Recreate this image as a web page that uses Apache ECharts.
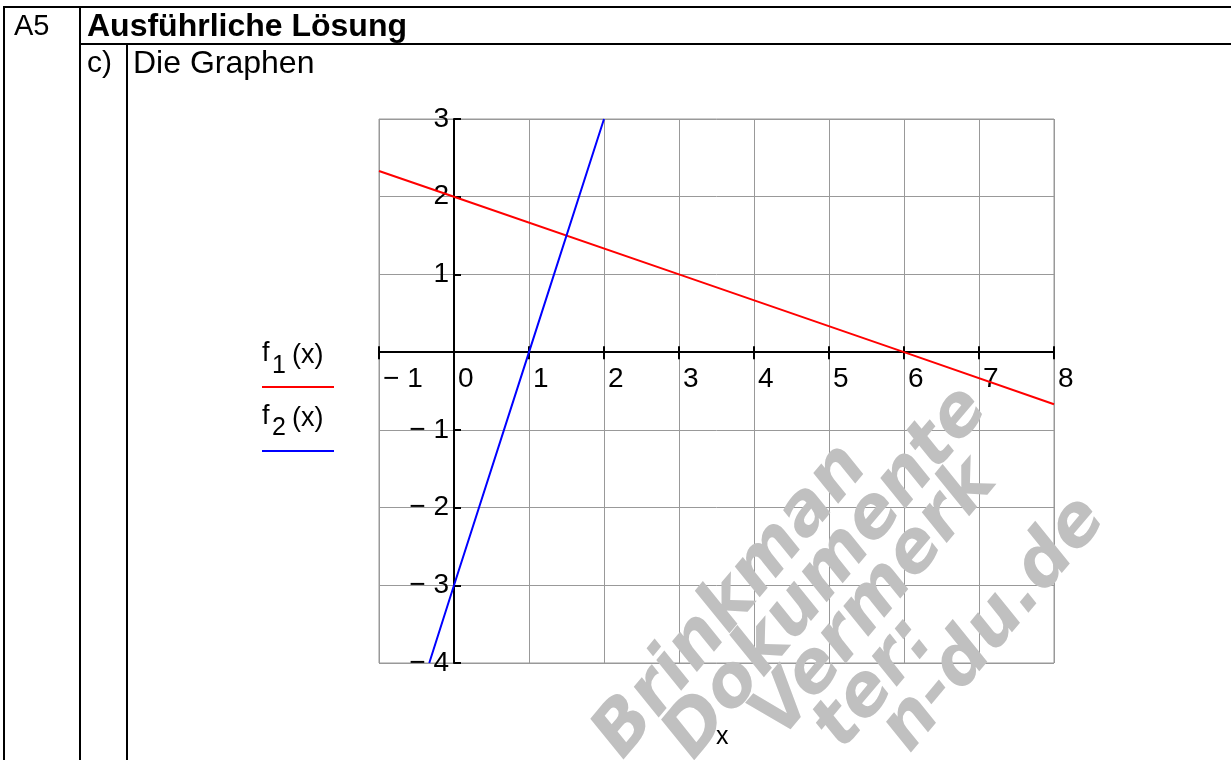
<!DOCTYPE html>
<html>
<head>
<meta charset="utf-8">
<script src="https://cdn.jsdelivr.net/npm/echarts@6/dist/echarts.min.js"></script>
<style>
  html, body { margin: 0; padding: 0; background: #fff; }
  #chart { width: 1231px; height: 760px; }
</style>
</head>
<body>
<div id="chart"></div>
<script>
// values
const xTicks = [-1, 0, 1, 2, 3, 4, 5, 6, 7, 8]
const yTicks = [-4, -3, -2, -1, 0, 1, 2, 3]
const f1Points = [[-1, 2.33], [0, 2], [3, 1], [6, 0], [8, -0.67]]
const f2Points = [[-0.33, -4], [0, -3], [1, 0], [2, 3]]
const watermarkLines = ['Brinkman', 'Dokumente', 'Vermerk', 'ter:', 'n-du.de']

const FONT = 'Liberation Sans, Arial, sans-serif'
const plot = { left: 379, top: 119, width: 675, height: 544 }

const xMin = xTicks[0], xMax = xTicks[xTicks.length - 1]
const yMin = yTicks[0], yMax = yTicks[yTicks.length - 1]
// move the axes (with their labels) from the grid edge onto the zero lines
const xAxisOffset = -(0 - yMin) / (yMax - yMin) * plot.height
const yAxisOffset = -(0 - xMin) / (xMax - xMin) * plot.width

const chart = echarts.init(document.getElementById('chart'))

function fmtNum(v) {
  return v < 0 ? '\u2212 ' + Math.abs(v) : String(v)
}

function line(x1, y1, x2, y2, color) {
  return {
    type: 'line',
    shape: { x1: x1, y1: y1, x2: x2, y2: y2 },
    style: { stroke: color || '#000', lineWidth: 2 },
    z: 10
  }
}

function text(str, x, y, size, opts) {
  opts = opts || {}
  return {
    type: 'text',
    x: x,
    y: y,
    z: opts.z || 10,
    style: {
      text: str,
      fill: opts.fill || '#000',
      fontSize: size,
      fontFamily: opts.family || FONT,
      fontWeight: opts.weight || 'normal',
      fontStyle: opts.style || 'normal',
      align: opts.align || 'left',
      textAlign: opts.align || 'left',
      verticalAlign: 'middle',
      textVerticalAlign: 'middle'
    }
  }
}

// watermark, right end of each line
const wmEnds = [[855, 455], [975, 397], [984, 470], [922, 628], [1093, 507]]
const watermark = watermarkLines.map(function (s, i) {
  const t = text(s, wmEnds[i][0], wmEnds[i][1], 71, {
    fill: '#c0c0c0', family: 'DejaVu Sans', weight: 'bold', style: 'italic', align: 'right', z: 50
  })
  t.rotation = 50 * Math.PI / 180
  return t
})

const graphics = [
  // table frame
  line(3, 7, 1231, 7),
  line(80, 44, 1231, 44),
  line(4, 6, 4, 760),
  line(80, 6, 80, 760),
  line(127, 44, 127, 760),
  text('A5', 14, 27, 29),
  text('Ausführliche Lösung', 87, 27, 32, { weight: 'bold' }),
  text('c)', 87, 64, 30),
  text('Die Graphen', 133, 64, 32),
  // legend
  text('f', 262, 354, 27),
  text('1', 272, 366, 25),
  text('(x)', 292, 356, 27),
  line(262, 387, 334, 387, '#ff0000'),
  text('f', 262, 417, 27),
  text('2', 272, 428, 25),
  text('(x)', 292, 419, 27),
  line(262, 451, 334, 451, '#0000ff'),
  // axis name
  text('x', 716, 737, 25, { z: 100 })
].concat(watermark)

chart.setOption({
  animation: false,
  backgroundColor: '#fff',
  grid: [
    Object.assign({ show: true, borderColor: '#999', borderWidth: 1, containLabel: false }, plot),
    Object.assign({ show: false, containLabel: false }, plot)
  ],
  xAxis: [
    {
      type: 'value',
      gridIndex: 0,
      min: xMin,
      max: xMax,
      interval: 1,
      offset: xAxisOffset,
      axisLine: { onZero: false, lineStyle: { color: '#000', width: 2 } },
      axisTick: { show: true, inside: false, length: 7, lineStyle: { color: '#000', width: 2 } },
      splitLine: { show: true, lineStyle: { color: '#999', width: 1 } },
      axisLabel: {
        show: true,
        showMinLabel: true,
        showMaxLabel: true,
        align: 'left',
        margin: 13,
        padding: [0, 0, 0, 4],
        color: '#000',
        fontSize: 28,
        fontFamily: FONT,
        formatter: fmtNum
      }
    },
    {
      type: 'value',
      gridIndex: 1,
      min: xMin,
      max: xMax,
      interval: 1,
      offset: xAxisOffset,
      axisLine: { show: false, onZero: false },
      axisTick: { show: true, inside: true, length: 6, lineStyle: { color: '#000', width: 2 } },
      axisLabel: { show: false },
      splitLine: { show: false }
    }
  ],
  yAxis: [
    {
      type: 'value',
      gridIndex: 0,
      min: yMin,
      max: yMax,
      interval: 1,
      offset: yAxisOffset,
      axisLine: { onZero: false, lineStyle: { color: '#000', width: 2 } },
      axisTick: { show: true, inside: true, length: 7, lineStyle: { color: '#000', width: 2 } },
      splitLine: { show: true, lineStyle: { color: '#999', width: 1 } },
      axisLabel: {
        show: true,
        showMinLabel: true,
        showMaxLabel: true,
        margin: 5,
        color: '#000',
        fontSize: 28,
        fontFamily: FONT,
        formatter: function (v) { return v === 0 ? '' : fmtNum(v) }
      }
    },
    {
      type: 'value',
      gridIndex: 1,
      min: yMin,
      max: yMax,
      interval: 1,
      axisLine: { show: false, onZero: false },
      axisTick: { show: false },
      axisLabel: { show: false },
      splitLine: { show: false }
    }
  ],
  series: [
    {
      name: 'f1(x)',
      type: 'line',
      xAxisIndex: 0,
      yAxisIndex: 0,
      data: f1Points,
      showSymbol: false,
      lineStyle: { color: '#ff0000', width: 2 },
      z: 20
    },
    {
      name: 'f2(x)',
      type: 'line',
      xAxisIndex: 0,
      yAxisIndex: 0,
      data: f2Points,
      showSymbol: false,
      lineStyle: { color: '#0000ff', width: 2 },
      z: 20
    }
  ],
  graphic: graphics
})
</script>
</body>
</html>
